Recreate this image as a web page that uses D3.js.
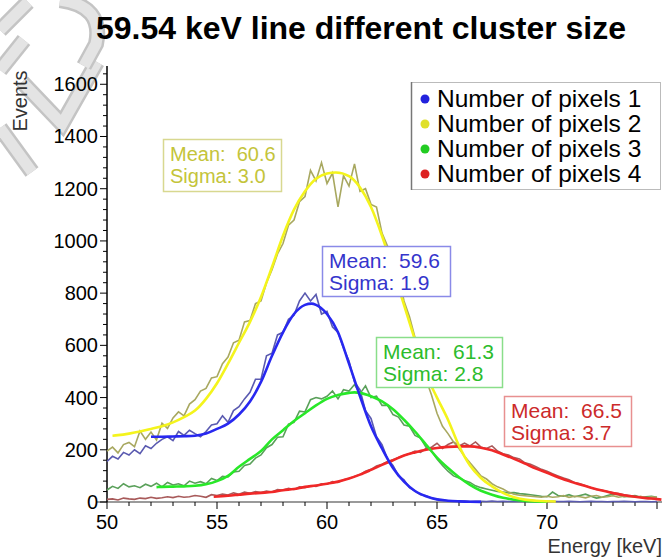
<!DOCTYPE html>
<html><head><meta charset="utf-8">
<script src="https://cdn.jsdelivr.net/npm/d3@7"></script>
<style>
html,body{margin:0;padding:0;background:#fff;}
svg{display:block;font-family:"Liberation Sans",Arial,sans-serif;}
</style></head>
<body><svg id="c" width="666" height="558"></svg>
<script>
// ---- data ----
const binStart = 50, binStep = 0.25;
const seriesNames = ["Number of pixels 1","Number of pixels 2","Number of pixels 3","Number of pixels 4"];
const pix1Counts = [155,175,165,190,180,200,185,215,205,225,240,250,235,270,255,275,262,250,270,295,
 300,330,305,350,365,395,420,470,470,560,570,640,650,700,715,770,800,770,795,720,
 730,670,650,590,540,460,430,350,320,250,220,165,140,100,85,55,42,28,24,14,
 10,7,5,4,3,4,2,3,3,2,4,2,3,2,3,2,2,3,2,2,
 2,3,2,2,3,2,1,2,3,2,2,1,2,2,3,2,1,2,2,1,2];
const pix2Counts = [195,210,188,220,228,212,272,240,268,238,302,282,322,345,330,375,392,425,435,475,
 480,530,555,610,620,690,695,760,770,840,890,950,990,1060,1080,1150,1170,1270,1230,1300,
 1220,1260,1130,1250,1210,1295,1190,1200,1140,1130,1030,980,910,870,770,710,630,570,470,410,
 340,290,262,230,205,175,150,125,100,88,70,58,50,38,30,26,24,22,20,18,
 22,18,20,25,18,22,20,16,22,25,18,20,24,18,22,20,18,22,16,20,18];
const pix3Counts = [46,60,52,70,58,62,55,68,60,72,58,75,65,70,62,80,72,78,70,90,
 82,98,96,115,118,140,145,168,180,208,220,248,250,298,305,348,345,392,400,395,
 405,425,395,430,425,450,415,445,400,405,370,370,335,325,295,290,255,245,210,195,
 165,140,118,100,92,82,75,62,55,50,45,40,38,35,36,32,30,28,25,22,
 20,38,25,22,28,20,25,30,22,15,18,25,30,28,20,22,25,18,20,22,18];
const pix4Counts = [10,12,8,15,12,10,15,13,18,14,16,20,17,22,18,20,25,22,18,28,
 25,30,27,35,30,38,33,40,36,42,38,48,45,52,48,58,55,62,60,70,
 68,78,75,85,90,98,105,118,125,138,145,155,162,170,178,185,195,190,205,210,
 225,205,220,230,215,225,215,230,210,205,215,195,185,180,170,165,150,145,135,125,
 118,108,100,92,85,75,70,62,55,48,45,40,35,32,28,25,22,18,16,14,12];

const fit1E = [52,52.5,53,53.5,54,54.5,55,55.5,56,56.5,57,57.5,58,58.5,59,59.3,59.5,60,60.5,61,61.5,62,62.5,63,63.5,64,64.5,65,65.5,66,66.5,67];
const fit1V = [250,250,251,252,254,262,280,300,335,385,460,560,650,720,755,760,755,720,650,530,405,290,205,130,78,42,22,10,5,2.5,1,0.5];
const fit2E = [50.25,50.5,51,51.5,52,52.5,53,53.5,54,54.5,55,55.5,56,56.5,57,57.5,58,58.5,59,59.5,60,60.4,61,61.5,62,62.5,63,63.5,64,64.5,65,65.5,66,66.5,67,67.5,68,68.5,69,69.5,70,70.4];
const fit2V = [254,256,262,270,280,290,305,325,350,395,455,530,610,690,785,900,1020,1120,1190,1238,1258,1262,1248,1205,1130,1020,890,755,620,490,400,315,215,140,92,60,35,18,9,5,3,2];
const fit3E = [52.25,52.5,53,53.5,54,54.5,55,55.5,56,56.5,57,57.5,58,58.5,59,59.5,60,60.5,61,61.25,61.5,62,62.5,63,63.5,64,64.5,65,65.5,66,66.5,67,67.5,68,68.5,69,69.5,70];
const fit3V = [57,58,59,60,62,68,80,100,135,165,195,240,275,310,340,370,395,410,418,420,418,405,385,355,315,270,220,170,130,95,66,43,28,16,9,4,2,1];
const fit4E = [54.85,55.5,56,56.5,57,57.5,58,58.5,59,59.5,60,60.5,61,61.5,62,62.5,63,63.5,64,64.5,65,65.5,66,66.5,67,67.5,68,68.5,69,69.5,70,70.5,71,71.5,72,72.5,73,73.5,74,74.5,75,75.2];
const fit4V = [20,24,28,32,35,38,45,50,58,63,70,78,90,105,123,142,160,178,190,200,207,211,213,213,208,198,182,165,147,128,112,95,80,67,55,44,34,26,20,15,11,9];

const fitMeans = ["60.6","59.6","61.3","66.5"]; // order: pix2, pix1, pix3, pix4 boxes
const fitSigmas = ["3.0","1.9","2.8","3.7"];
const yTicks = [0,200,400,600,800,1000,1200,1400,1600];
const xTicks = [50,55,60,65,70];

// ---- styles ----
const dataCol = ["#5a5ab0","#a8a860","#5aa05a","#a85a5a"];
const fitCol  = ["#2828f0","#f4f41c","#28e828","#f02828"];
const dotCol  = ["#2222dd","#e0e02a","#22cc22","#dd2222"];
const boxCol  = ["#c4c43a","#3535cc","#2cbc2c","#cc2a2a"];
const boxBorder=["#d8d890","#8a8ae8","#8ade8a","#e89090"];

const svg = d3.select("#c");
const x = d3.scaleLinear().domain([50,75.25]).range([107,662.5]);
const y = d3.scaleLinear().domain([0,1670]).range([502,66]);

// watermark
const wm = svg.append("g").attr("fill","none").attr("stroke-linecap","butt").attr("stroke-linejoin","miter");
const wmPaths = ["M0,30 L28,2","M97,62 L62,124 L22,82","M0,128 L32,172","M60,0 Q104,6 96,44 L84,66","M0,70 L24,40"];
wmPaths.forEach(p=>{
  wm.append("path").attr("d",p).attr("stroke","#c4c4c4").attr("stroke-width",16);
  wm.append("path").attr("d",p).attr("stroke","#e4e4e4").attr("stroke-width",11);
});

// title
svg.append("text").attr("x",361).attr("y",39).attr("text-anchor","middle")
  .attr("font-size",32).attr("font-weight","bold").attr("fill","#000")
  .text("59.54 keV line different cluster size");

// zero line (x-axis)
svg.append("line").attr("x1",97).attr("x2",662).attr("y1",y(0)).attr("y2",y(0))
  .attr("stroke","#9a9a9a").attr("stroke-width",2);

// x-axis ticks
const xa = svg.append("g");
d3.range(50,76,1).forEach(v=>{
  if (x(v) > 663) return;
  const major = v%5===0;
  xa.append("line").attr("x1",x(v)).attr("x2",x(v)).attr("y1",y(0)).attr("y2",y(0)+(major?7:4))
    .attr("stroke","#000").attr("stroke-width",1);
});
xTicks.forEach(v=>{
  xa.append("text").attr("x",x(v)).attr("y",529).attr("text-anchor","middle")
    .attr("font-size",20).attr("fill","#000").text(v);
});
svg.append("text").attr("x",662).attr("y",553).attr("text-anchor","end").attr("font-size",20)
  .attr("fill","#333").text("Energy [keV]");

// y-axis
const ya = svg.append("g");
ya.append("line").attr("x1",x(50)).attr("x2",x(50)).attr("y1",66).attr("y2",y(0)).attr("stroke","#000").attr("stroke-width",1.5);
d3.range(0,1670,40).forEach(v=>{
  const major = v%200===0;
  ya.append("line").attr("x1",x(50)).attr("x2",x(50)-(major?7:4)).attr("y1",y(v)).attr("y2",y(v))
    .attr("stroke","#000").attr("stroke-width",1);
});
yTicks.forEach(v=>{
  ya.append("text").attr("x",x(50)-9).attr("y",y(v)+7).attr("text-anchor","end")
    .attr("font-size",20).attr("fill","#000").text(v);
});
svg.append("text").attr("transform","translate(27,101) rotate(-90)").attr("text-anchor","middle")
  .attr("font-size",20).attr("fill","#333").text("Events");

// data histograms
const allCounts = [pix1Counts,pix2Counts,pix3Counts,pix4Counts];
const line = d3.line().x(d=>x(d[0])).y(d=>y(d[1]));
const plot = svg.append("g");
[3,2,0,1].forEach(i=>{
  const pts = allCounts[i].map((v,k)=>[binStart+k*binStep, v]);
  plot.append("path").attr("d",line(pts)).attr("fill","none").attr("stroke",dataCol[i]).attr("stroke-width",1.6);
});
// fits
const fitE=[fit1E,fit2E,fit3E,fit4E], fitV=[fit1V,fit2V,fit3V,fit4V];
const fline = d3.line().x(d=>x(d[0])).y(d=>y(d[1])).curve(d3.curveMonotoneX);
[3,2,0,1].forEach(i=>{
  const pts = fitE[i].map((e,k)=>[e, fitV[i][k]]);
  plot.append("path").attr("d",fline(pts)).attr("fill","none").attr("stroke",fitCol[i]).attr("stroke-width",2.6);
});

// stats boxes
const boxes = [
  {x:163,y:139,w:118,h:52,c:0,fs:20},
  {x:322,y:246,w:128,h:50,c:1,fs:21},
  {x:376,y:337,w:126,h:50,c:2,fs:21},
  {x:504,y:396,w:127,h:50,c:3,fs:21}
];
boxes.forEach((b,i)=>{
  const g = svg.append("g");
  g.append("rect").attr("x",b.x+0.5).attr("y",b.y+0.5).attr("width",b.w).attr("height",b.h)
    .attr("fill","#fff").attr("stroke",boxBorder[b.c]).attr("stroke-width",1.5);
  g.append("text").attr("x",b.x+7).attr("y",b.y+22).attr("font-size",b.fs).attr("fill",boxCol[b.c])
    .attr("xml:space","preserve").style("white-space","pre").text("Mean:  "+fitMeans[i]);
  g.append("text").attr("x",b.x+7).attr("y",b.y+44).attr("font-size",b.fs).attr("fill",boxCol[b.c])
    .attr("xml:space","preserve").style("white-space","pre").text("Sigma: "+fitSigmas[i]);
});

// legend
const lg = svg.append("g");
lg.append("rect").attr("x",411.5).attr("y",82.5).attr("width",249).attr("height",107)
  .attr("fill","#fff").attr("stroke","#bbb").attr("stroke-width",1);
lg.append("line").attr("x1",411.5).attr("x2",411.5).attr("y1",82).attr("y2",190).attr("stroke","#777").attr("stroke-width",1.5);
seriesNames.forEach((n,i)=>{
  const cy = 99 + i*25;
  lg.append("circle").attr("cx",425).attr("cy",cy).attr("r",4.5).attr("fill",dotCol[i]);
  lg.append("text").attr("x",437).attr("y",cy+8).attr("font-size",24.5).attr("fill","#000").text(n);
});
</script></body></html>
